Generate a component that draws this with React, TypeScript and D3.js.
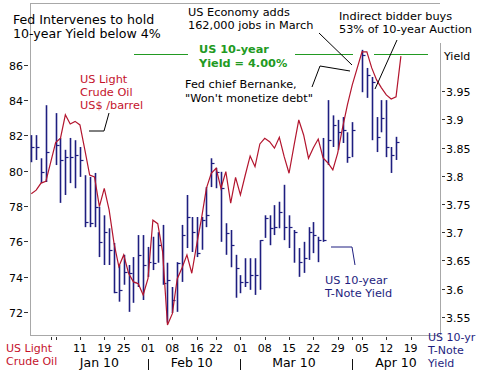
import React, { useEffect, useRef } from "react";
import * as d3 from "d3";

const W = 483;
const H = 372;

// trading sessions shown on the x axis (Jan 1 and Apr 2 keep an empty slot)
const firstDay = "2009-12-28";
const lastDay = "2010-04-30";
const closedDays = ["2010-01-18", "2010-02-15"];

// US light crude, US$ / barrel, one value per session slot
const oil = [
  78.7, 78.9, 79.3, 79.4, null, 81.6, 81.85, 83.17, 82.65, 82.8,
  82.6, 81.2, 79.76, 79.65, 77.97, 79.0, 77.78, 75.9, 74.57, 75.23,
  74.19, 73.7, 73.6, 72.96, 73.9, 77.2, 77.0, 75.4, 71.26, 71.9,
  73.87, 74.5, 75.23, 74.19, 75.8, 77.3, 79.0, 79.86, 80.14, 79.0,
  79.95, 78.16, 79.63, 78.63, 79.76, 80.84, 80.23, 81.52, 81.84, 81.65,
  81.28, 81.9, 80.8, 79.86, 81.4, 82.88, 82.03, 80.71, 81.3, 81.8,
  80.73, 80.44, 80.05, 81.0, 82.43, 83.73, 84.87, null, 86.74, 86.74,
  85.83, 85.15, 84.7, 84.3, 84.07, 84.19, 86.5,
];

// US 10-year T-note yield, daily high / low / close
const yHigh = [
  3.872, 3.872, 3.831, 3.925, null, 3.911, 3.867, 3.846, 3.867, 3.863,
  3.851, 3.801, 3.798, 3.805, 3.745, 3.73, 3.707, 3.681, 3.642, 3.66,
  3.642, 3.656, 3.695, 3.695, 3.674, 3.692, 3.7, 3.713, 3.646, 3.603,
  3.647, 3.713, 3.766, 3.727, 3.727, 3.727, 3.78, 3.831, 3.814, 3.807,
  3.716, 3.704, 3.66, 3.624, 3.654, 3.654, 3.654, 3.686, 3.73, 3.73,
  3.748, 3.754, 3.784, 3.73, 3.704, 3.672, 3.683, 3.709, 3.718, 3.692,
  3.867, 3.934, 3.907, 3.899, 3.904, 3.877, 3.895, null, 4.023, 3.991,
  3.975, 3.904, 3.934, 3.934, 3.851, 3.869,
];
const yLow = [
  3.824, 3.828, 3.787, 3.789, null, 3.819, 3.752, 3.766, 3.787, 3.778,
  3.798, 3.709, 3.709, 3.709, 3.656, 3.642, 3.642, 3.592, 3.577, 3.607,
  3.559, 3.575, 3.603, 3.58, 3.621, 3.633, 3.646, 3.607, 3.54, 3.557,
  3.559, 3.612, 3.672, 3.665, 3.656, 3.669, 3.709, 3.78, 3.778, 3.683,
  3.66, 3.638, 3.584, 3.592, 3.603, 3.598, 3.589, 3.598, 3.69, 3.677,
  3.695, 3.707, 3.686, 3.672, 3.646, 3.621, 3.628, 3.651, 3.663, 3.647,
  3.683, 3.819, 3.851, 3.846, 3.858, 3.823, 3.833, null, 3.948, 3.938,
  3.863, 3.842, 3.877, 3.833, 3.805, 3.828,
];
const yClose = [
  3.851, 3.851, 3.807, 3.842, null, 3.854, 3.828, 3.833, 3.833, 3.837,
  3.828, 3.718, 3.716, 3.745, 3.683, 3.7, 3.669, 3.594, 3.598, 3.63,
  3.628, 3.612, 3.66, 3.642, 3.647, 3.646, 3.677, 3.61, 3.615, 3.58,
  3.646, 3.695, 3.727, 3.7, 3.663, 3.722, 3.73, 3.823, 3.807, 3.778,
  3.699, 3.677, 3.637, 3.612, 3.612, 3.624, 3.624, 3.686, 3.725, 3.707,
  3.709, 3.736, 3.709, 3.709, 3.7, 3.647, 3.654, 3.7, 3.695, 3.686,
  3.686, 3.863, 3.89, 3.877, 3.881, 3.833, 3.881, null, 4.014, 3.978,
  3.966, 3.869, 3.902, 3.851, 3.837, 3.86,
];

const oilTicks = [72, 74, 76, 78, 80, 82, 84, 86];
const yieldTicks = [3.55, 3.6, 3.65, 3.7, 3.75, 3.8, 3.85, 3.9, 3.95];

// first session of each week (labelled with the day of month)
const weekTicks = [
  "2010-01-11", "2010-01-19", "2010-01-25", "2010-02-01", "2010-02-08",
  "2010-02-16", "2010-02-22", "2010-03-01", "2010-03-08", "2010-03-15",
  "2010-03-22", "2010-03-29", "2010-04-05", "2010-04-12", "2010-04-19",
];
const plainTicks = ["2010-01-01", "2010-01-04", "2010-04-01"];
const monthStarts = ["2010-02-01", "2010-03-01", "2010-04-01"];
const monthLabels = ["Jan 10", "Feb 10", "Mar 10", "Apr 10"];
const monthLabelAt = ["2010-01-15", "2010-02-12", "2010-03-16", "2010-04-14"];

const capLevel = 4.015; // where the green 4% line sits on the yield axis

const FONT = "DejaVu Sans";
const RED = "#c4122c";
const LINE_RED = "#b3152e";
const NAVY = "#1e1e80";
const GREEN = "#229a22";

export default function App() {
  const ref = useRef<SVGSVGElement | null>(null);

  useEffect(() => {
    const svg = d3.select(ref.current);
    svg.selectAll("*").remove();

    const parse = d3.timeParse("%Y-%m-%d");
    const fmt = d3.timeFormat("%Y-%m-%d");
    const sessions = d3.timeDay
      .range(parse(firstDay) as Date, parse(lastDay) as Date)
      .filter((d) => d.getDay() !== 0 && d.getDay() !== 6)
      .map((d) => fmt(d))
      .filter((s) => !closedDays.includes(s));
    const slot = (s: string) => sessions.indexOf(s);

    const left = 30, right = 440, top = 3, bottom = 335;

    const x = d3.scaleLinear().domain([-0.27, 84.04]).range([left, right]);
    const yOil = d3.scaleLinear().domain([70.69, 89.51]).range([bottom, top]);
    const yYld = d3.scaleLinear().domain([3.518, 4.106]).range([bottom, top]);

    // frame
    const frame = svg.append("g").attr("stroke", "#a8a8a8").attr("fill", "none");
    frame.append("line").attr("x1", left).attr("x2", right).attr("y1", top + 0.5).attr("y2", top + 0.5);
    frame.append("line").attr("x1", left + 0.5).attr("x2", left + 0.5).attr("y1", top).attr("y2", bottom);
    frame.append("line").attr("x1", right + 0.5).attr("x2", right + 0.5).attr("y1", 43).attr("y2", bottom);
    frame.append("line").attr("x1", left).attr("x2", right).attr("y1", bottom + 0.5).attr("y2", bottom + 0.5);

    // left axis (oil)
    const la = svg.append("g");
    oilTicks.forEach((t) => {
      const yy = Math.round(yOil(t)) + 0.5;
      la.append("line").attr("x1", 24).attr("x2", 28).attr("y1", yy).attr("y2", yy).attr("stroke", "#333");
      la.append("text").attr("x", 23).attr("y", yy + 4).attr("text-anchor", "end")
        .style("font-family", FONT).style("font-size", "11px").text(t);
    });

    // right axis (yield)
    const ra = svg.append("g");
    yieldTicks.forEach((t) => {
      const yy = Math.round(yYld(t)) + 0.5;
      ra.append("line").attr("x1", 442).attr("x2", 445).attr("y1", yy).attr("y2", yy).attr("stroke", "#333");
      ra.append("text").attr("x", 446).attr("y", yy + 4)
        .style("font-family", FONT).style("font-size", "11px").text(d3.format("~g")(t));
    });
    ra.append("text").attr("x", 444).attr("y", 60)
      .style("font-family", FONT).style("font-size", "11px").text("Yield");

    // bottom axis
    const ba = svg.append("g");
    [...weekTicks, ...plainTicks].forEach((d) => {
      const xx = Math.round(x(slot(d))) + 0.5;
      ba.append("line").attr("x1", xx).attr("x2", xx).attr("y1", bottom + 2).attr("y2", bottom + 5).attr("stroke", "#333");
    });
    weekTicks.forEach((d) => {
      ba.append("text").attr("x", x(slot(d))).attr("y", 352).attr("text-anchor", "middle")
        .style("font-family", FONT).style("font-size", "11px").text(d.slice(8));
    });
    monthStarts.forEach((d) => {
      const xx = Math.round(x(slot(d))) + 0.5;
      ba.append("line").attr("x1", xx).attr("x2", xx).attr("y1", 359).attr("y2", 370).attr("stroke", "#111");
    });
    monthLabels.forEach((m, i) => {
      ba.append("text").attr("x", x(slot(monthLabelAt[i]))).attr("y", 367).attr("text-anchor", "middle")
        .style("font-family", FONT).style("font-size", "12.5px").text(m);
    });

    // green 4% reference
    const capY = Math.round(yYld(capLevel)) + 0.5;
    [[134, 188], [295, 353], [374, 428]].forEach(([a, b]) => {
      svg.append("line").attr("x1", a).attr("x2", b).attr("y1", capY).attr("y2", capY)
        .attr("stroke", GREEN).attr("stroke-width", 1);
    });

    // yield HLC bars
    const bars = svg.append("g").attr("stroke", NAVY);
    yHigh.forEach((h, i) => {
      if (h == null) return;
      const xx = Math.round(x(i)) + 0.5;
      bars.append("line").attr("x1", xx).attr("x2", xx)
        .attr("y1", yYld(h)).attr("y2", yYld(yLow[i] as number)).attr("stroke-width", 1.6);
      const cy = Math.round(yYld(yClose[i] as number)) + 0.5;
      bars.append("line").attr("x1", xx).attr("x2", xx + 3).attr("y1", cy).attr("y2", cy).attr("stroke-width", 1.2);
    });

    // oil line
    const pts = oil.map((v, i) => [i, v] as [number, number | null]).filter((p) => p[1] != null) as [number, number][];
    const line = d3.line<[number, number]>().x((p) => x(p[0])).y((p) => yOil(p[1]));
    svg.append("path").attr("d", line(pts)).attr("fill", "none")
      .attr("stroke", LINE_RED).attr("stroke-width", 1.2);

    // annotations
    const txt = (x0: number, y0: number, lines: string[], size: number, color = "#000", weight = "normal", lh = 13) => {
      lines.forEach((s, i) => {
        svg.append("text").attr("x", x0).attr("y", y0 + i * lh)
          .style("font-family", FONT).style("font-size", size + "px").style("font-weight", weight)
          .attr("fill", color).text(s);
      });
    };
    const pointer = (pts: [number, number][], color = "#000") => {
      svg.append("path").attr("d", d3.line()(pts)).attr("fill", "none").attr("stroke", color).attr("stroke-width", 1);
    };

    txt(13, 24, ["Fed Intervenes to hold", "10-year Yield below 4%"], 12.6, "#000", "normal", 14);
    txt(188, 16, ["US Economy adds", "162,000 jobs in March"], 11.3);
    pointer([[319, 33], [352, 65]]);
    txt(339, 20, ["Indirect bidder buys", "53% of 10-year Auction"], 11.3);
    pointer([[397, 40], [375, 89]]);
    txt(199, 53, ["US 10-year", "Yield = 4.00%"], 11.3, GREEN, "bold", 13.5);
    txt(80, 83, ["US Light", "Crude Oil", "US$ /barrel"], 11.3, RED);
    pointer([[89, 131], [104, 131], [109, 113]]);
    txt(185, 88, ["Fed chief Bernanke,", "\"Won't monetize debt\""], 11.3, "#000", "normal", 13.5);
    pointer([[312, 87], [320, 66], [350, 71]]);
    txt(325, 284, ["US 10-year", "T-Note Yield"], 11.3, NAVY);
    pointer([[331, 247], [352, 247], [355, 265]], NAVY);

    txt(6, 352, ["US Light", "Crude Oil"], 11, RED);
    txt(428, 341, ["US 10-yr", "T-Note", "Yield"], 11, NAVY);
  }, []);

  return (
    <svg
      ref={ref}
      width={W}
      height={H}
      style={{ position: "absolute", left: 0, top: 0, background: "#fff" }}
    />
  );
}
